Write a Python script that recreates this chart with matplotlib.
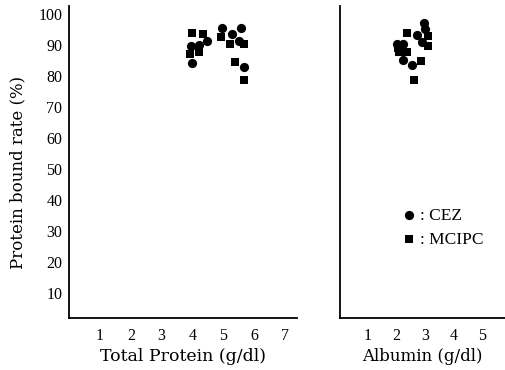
import matplotlib
matplotlib.use('Agg')
import matplotlib.pyplot as plt

plt.rcParams['font.family'] = ['Liberation Serif', 'DejaVu Serif']

# 总蛋白 vs 结合率
tp_cez_x = [4.96, 5.29, 5.59, 5.50, 4.48, 3.95, 4.22, 4.00, 5.67]
tp_cez_y = [95.4, 93.5, 95.4, 91.4, 91.4, 89.8, 90.0, 84.4, 83.0]
tp_mcipc_x = [3.99, 4.33, 4.94, 5.21, 5.67, 3.93, 4.22, 5.40, 5.69]
tp_mcipc_y = [93.8, 93.5, 92.5, 90.3, 90.5, 87.3, 87.8, 84.6, 78.7]

# 白蛋白 vs 结合率
alb_cez_x = [2.95, 3.00, 2.71, 2.90, 2.00, 2.24, 2.24, 2.53]
alb_cez_y = [97.0, 95.2, 93.2, 91.1, 90.3, 90.5, 85.2, 83.5]
alb_mcipc_x = [2.36, 3.12, 3.12, 2.09, 2.38, 2.85, 2.60, 2.05]
alb_mcipc_y = [94.0, 92.9, 89.8, 87.8, 87.8, 84.9, 78.7, 89.0]

y_ticks = [10, 20, 30, 40, 50, 60, 70, 80, 90, 100]
tp_ticks = [1, 2, 3, 4, 5, 6, 7]
alb_ticks = [1, 2, 3, 4, 5]

fig = plt.figure(figsize=(5.06, 3.70), dpi=100)
ax1 = fig.add_axes([0.137, 0.1405, 0.450, 0.843])
ax2 = fig.add_axes([0.671, 0.1405, 0.329, 0.843])

for ax in (ax1, ax2):
    ax.spines['top'].set_visible(False)
    ax.spines['right'].set_visible(False)
    ax.spines['left'].set_linewidth(1.3)
    ax.spines['bottom'].set_linewidth(1.3)
    ax.set_ylim(2, 102.6)
    ax.tick_params(length=0, labelsize=11.5)
    ax.tick_params(axis='x', pad=7)
    ax.tick_params(axis='y', pad=5)

ax1.scatter(tp_cez_x, tp_cez_y, marker='o', s=44, color='black', linewidths=0)
ax1.scatter(tp_mcipc_x, tp_mcipc_y, marker='s', s=34, color='black', linewidths=0)
ax1.set_xlim(0, 7.4)
ax1.set_xticks(tp_ticks)
ax1.set_yticks(y_ticks)
ax1.set_xlabel('Total Protein (g/dl)', labelpad=3, family='DejaVu Serif', fontsize=12.5)
ax1.set_ylabel('Protein bound rate (%)', family='DejaVu Serif', fontsize=12)
ax1.yaxis.set_label_coords(-0.19, 0.468)

ax2.scatter(alb_cez_x, alb_cez_y, marker='o', s=44, color='black', linewidths=0, label=': CEZ')
ax2.scatter(alb_mcipc_x, alb_mcipc_y, marker='s', s=34, color='black', linewidths=0, label=': MCIPC')
ax2.set_xlim(0, 5.84)
ax2.set_xticks(alb_ticks)
ax2.set_yticks([])
ax2.set_xlabel('Albumin (g/dl)', labelpad=3, family='DejaVu Serif', fontsize=12)
ax2.legend(loc='center left', bbox_to_anchor=(0.323, 0.29), frameon=False,
           fontsize=12.5, handlelength=0.8, handletextpad=0.25,
           labelspacing=0.45, borderpad=0)

fig.savefig('out.png', dpi=100)
